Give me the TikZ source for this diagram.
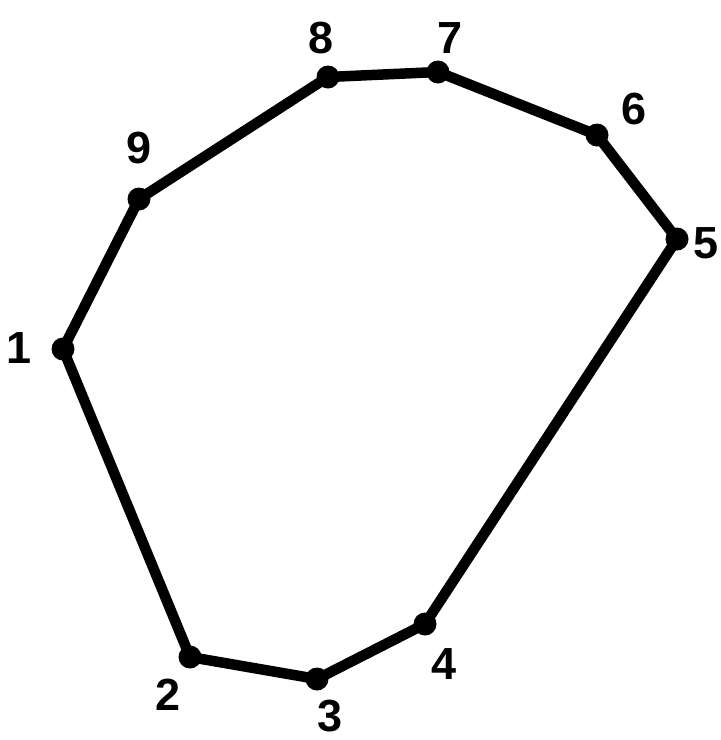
\documentclass[tikz,border=0pt]{standalone}
\usepackage{fontspec}
\setmainfont{Liberation Sans}
\begin{document}
\begin{tikzpicture}[x=1pt,y=-1pt,
  vdot/.style={circle,fill=black,inner sep=0pt,minimum size=23pt},
  vlabel/.style={font=\fontsize{45}{45}\selectfont\bfseries,inner sep=0pt}]
\useasboundingbox (0,0) rectangle (721,740);
\foreach \n/\x/\y in {1/63/349, 2/190/657, 3/317/679, 4/425/624, 5/677/239, 6/597/135, 7/438/72, 8/328/77, 9/139/199}
  \coordinate (p\n) at (\x,\y);
\draw[line width=10.5pt,line join=round] (p1) -- (p2) -- (p3) -- (p4) -- (p5) -- (p6) -- (p7) -- (p8) -- (p9) -- cycle;
\foreach \n in {1,...,9} \node[vdot] (d\n) at (p\n) {};
\foreach \n/\x/\y in {1/19/348, 2/168/695, 3/330/716, 4/444/664, 5/706/243, 6/634/109, 7/450/38, 8/321/38, 9/139/148}
  \node[vlabel] (l\n) at (\x,\y) {\n};
\end{tikzpicture}
\end{document}
